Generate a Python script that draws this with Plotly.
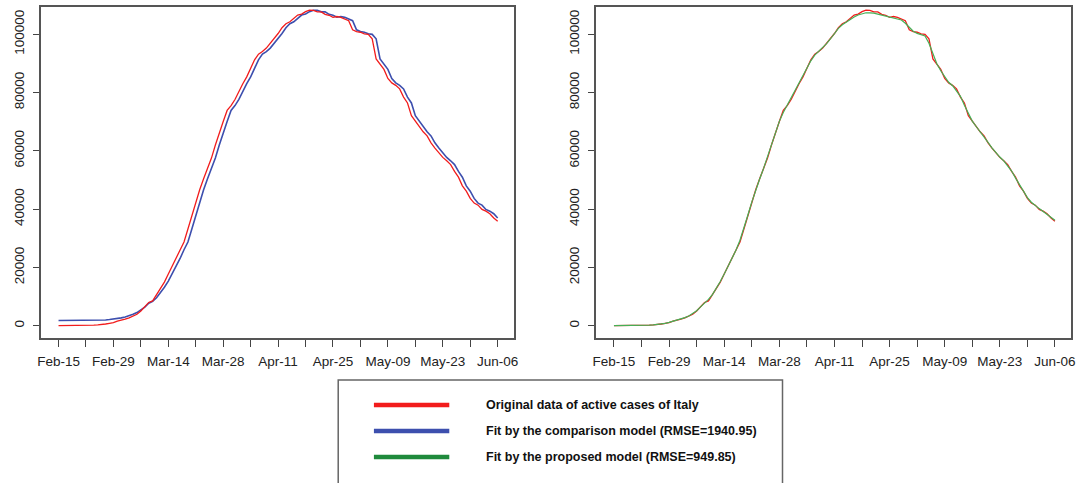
import pandas as pd
import plotly.graph_objects as go

# ---- data (Feb-15 .. Jun-06, daily) ----
start_date = "2020-02-15"
end_date = "2020-06-06"

original = [
    3, 3, 3, 3, 3, 3,
    17, 76, 150, 221, 311, 385, 588, 821, 1049,
    1577, 1835, 2263, 2706, 3296, 3916, 5061, 6387, 7985, 8514,
    10590, 12839, 14955, 17750, 20603, 23073, 26062, 28710, 33190, 37860,
    42681, 46638, 50418, 54030, 57521, 62013, 66414, 70065, 73880, 75528, 77635,
    80572, 83049, 85388, 88274, 91246, 93187, 94067, 95262, 96877, 98273,
    100269, 102253, 103616, 104291, 105418, 106607, 106962, 107771, 108257, 108237,
    107709, 107699, 106848, 106527, 105847, 106103, 105813, 105205, 104657, 101551,
    100943, 100704, 100179, 99980, 98467, 91528, 89624, 87961, 84842, 83324,
    82488, 81266, 78457, 76440, 72070, 70187, 68351, 66553, 65129, 62752,
    60960, 59322, 57752, 56594, 55300, 52942, 50966, 47986, 46175, 43691, 42075,
    41367, 39893, 39297, 38429, 36976, 35877,
]

comparison = [
    1800, 1800, 1800, 1800, 1800, 1800, 1800, 1800, 1810, 1830, 1860,
    1900, 1980, 2100, 2250,
    2450, 2700, 3000, 3400, 3900, 4500, 5300, 6350, 7700, 8400,
    9600, 11300, 13200, 15300, 17750, 20603, 23073, 26062, 28710, 33190,
    37860, 42681, 46638, 50418, 54030, 57521, 62013, 66414, 70065, 73880, 75528,
    77635, 80572, 83049, 85388, 88274, 91246, 93187, 94067, 95262, 96877,
    98273, 100269, 102253, 103616, 104291, 105418, 106607, 106962, 107771, 108257,
    108237, 107709, 107699, 106848, 106527, 105847, 106103, 105813, 105205, 104657,
    101551, 100943, 100704, 100179, 99980, 98467, 91528, 89624, 87961, 84842,
    83324, 82488, 81266, 78457, 76440, 72070, 70187, 68351, 66553, 65129,
    62752, 60960, 59322, 57752, 56594, 55300, 52942, 50966, 47986, 46175, 43691,
    42075, 41367, 39893, 39297, 38429, 36976,
]

proposed = [
    3, 3, 3, 3, 3, 8,
    32, 81, 149, 227, 306, 428, 598, 819, 1149,
    1487, 1892, 2268, 2755, 3306, 4091, 5121, 6478, 7629, 9030,
    10648, 12795, 15181, 17769, 20475, 23246, 25948, 29321, 33253, 37910,
    42393, 46579, 50362, 53990, 57855, 61983, 66164, 70120, 73158, 75681, 77912,
    80419, 83003, 85570, 88303, 90902, 92833, 94172, 95402, 96804, 98473,
    100265, 102046, 103287, 104242, 105139, 105929, 106613, 107063, 107388, 107368,
    107282, 106919, 106618, 106107, 105859, 105621, 105407, 104925, 103804, 102384,
    101066, 100309, 99888, 99442, 96958, 93206, 89904, 87476, 85376, 83551,
    82359, 80737, 78721, 75656, 72899, 70203, 68364, 66678, 64811, 62947,
    61011, 59345, 57889, 56549, 54945, 53069, 50631, 48376, 45951, 43980, 42378,
    41112, 40186, 39206, 38234, 37094, 36200,
]

tick_labels = ["Feb-15", "Feb-29", "Mar-14", "Mar-28", "Apr-11",
               "Apr-25", "May-09", "May-23", "Jun-06"]
y_ticks = [0, 20000, 40000, 60000, 80000, 100000]

series_names = [
    "Original data of active cases of Italy",
    "Fit by the comparison model (RMSE=1940.95)",
    "Fit by the proposed model (RMSE=949.85)",
]

RED = "#f21c1c"
BLUE = "#3d4fae"
GREEN = "#1f8a3c"
GREEN_LINE = "#45b055"

dates = pd.date_range(start_date, end_date, freq="D")
tick_dates = pd.date_range(start_date, end_date, freq="7D")
tick_text = []
li = 0
for i, d in enumerate(tick_dates):
    if i % 2 == 0:
        tick_text.append(tick_labels[li])
        li += 1
    else:
        tick_text.append("")

x_lo = dates[0] - pd.Timedelta(hours=4.55 * 24)
x_hi = dates[-1] + pd.Timedelta(hours=4.1 * 24)

fig = go.Figure()

# left panel
fig.add_trace(go.Scatter(x=dates, y=comparison, mode="lines",
                         line=dict(color=BLUE, width=1.6), xaxis="x", yaxis="y",
                         showlegend=False))
fig.add_trace(go.Scatter(x=dates, y=original, mode="lines",
                         line=dict(color=RED, width=1.3), xaxis="x", yaxis="y",
                         showlegend=False))
# right panel
fig.add_trace(go.Scatter(x=dates, y=original, mode="lines",
                         line=dict(color=RED, width=1.3), xaxis="x2", yaxis="y2",
                         showlegend=False))
fig.add_trace(go.Scatter(x=dates, y=proposed, mode="lines",
                         line=dict(color=GREEN_LINE, width=1.2), xaxis="x2", yaxis="y2",
                         showlegend=False))

W, H = 1088, 483
font = dict(family="Liberation Sans, Arial, sans-serif", size=13.5, color="#222222")

def xaxis(domain, anchor):
    return dict(domain=domain, anchor=anchor, type="date",
                range=[x_lo, x_hi], tickvals=list(tick_dates), ticktext=tick_text,
                ticks="outside", ticklen=7, tickwidth=1.2, tickcolor="#444444",
                showline=True, linecolor="#555555", linewidth=1.5, mirror=True,
                showgrid=False, zeroline=False, tickfont=font,
                ticklabelstandoff=3, fixedrange=True)

def yaxis(domain, anchor):
    return dict(domain=domain, anchor=anchor, range=[-4220, 109370],
                tickvals=y_ticks, ticktext=[str(v) for v in y_ticks],
                tickangle=-90, ticks="outside", ticklen=6, tickwidth=1.2,
                tickcolor="#444444", showline=True, linecolor="#555555",
                linewidth=1.5, mirror=True, showgrid=False, zeroline=False,
                tickfont=font, ticklabelstandoff=4, fixedrange=True)

ydom = [1 - 338 / H, 1 - 7 / H]
fig.update_layout(
    width=W, height=H,
    margin=dict(l=0, r=0, t=0, b=0),
    paper_bgcolor="white", plot_bgcolor="white",
    xaxis=xaxis([37 / W, 514 / W], "y"),
    yaxis=yaxis(ydom, "x"),
    xaxis2=xaxis([597 / W, 1076 / W], "y2"),
    yaxis2=yaxis(ydom, "x2"),
    showlegend=False,
)

# legend box drawn manually
shapes = [dict(type="rect", xref="paper", yref="paper",
               x0=337 / W, x1=785 / W, y0=-0.05, y1=1 - 380 / H,
               line=dict(color="#666666", width=1.5), fillcolor="white")]
legend_colors = [RED, BLUE, GREEN]
legend_y = [405, 431, 457]
annotations = []
for name, col, yy in zip(series_names, legend_colors, legend_y):
    shapes.append(dict(type="line", xref="paper", yref="paper",
                       x0=373 / W, x1=449 / W, y0=1 - yy / H, y1=1 - yy / H,
                       line=dict(color=col, width=4.5)))
    annotations.append(dict(xref="paper", yref="paper", x=484 / W, y=1 - yy / H,
                            text="<b>" + name + "</b>", showarrow=False,
                            xanchor="left", yanchor="middle",
                            font=dict(family="Liberation Sans, Arial, sans-serif",
                                      size=12.5, color="#111111")))
fig.update_layout(shapes=shapes, annotations=annotations)

fig.write_html("out.html", config={"displayModeBar": False})
